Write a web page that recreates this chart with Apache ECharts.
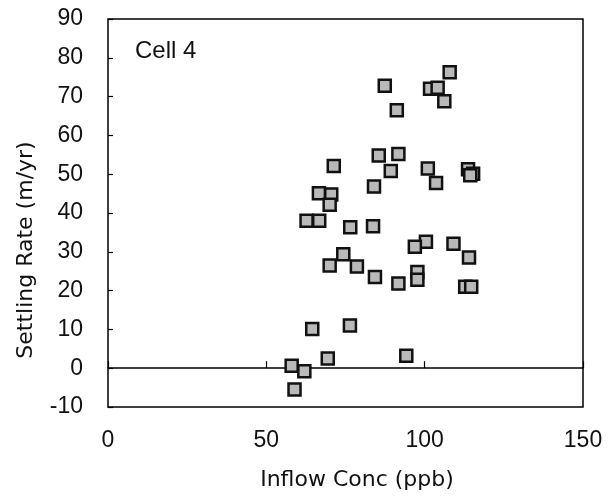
<!DOCTYPE html>
<html><head><meta charset="utf-8">
<script src="https://cdn.jsdelivr.net/npm/echarts@6/dist/echarts.min.js"></script>
<style>html,body{margin:0;padding:0;background:#fff}#c{width:610px;height:498px}</style>
</head><body><div id="c"></div>
<script>
var inflowConc = [107.9,87.4,101.7,104.1,106.2,91.2,85.5,91.7,71.3,89.3,101.0,113.7,115.3,114.4,103.6,84.0,66.6,70.5,70.0,62.7,66.7,76.5,83.7,100.4,96.9,109.1,74.3,70.0,78.6,114.0,84.3,97.7,97.7,91.7,112.8,114.7,64.5,76.4,69.4,94.2,58.0,62.0,58.9];
var settlingRate = [76.3,72.8,72.0,72.3,68.8,66.5,54.8,55.2,52.1,50.8,51.5,51.3,50.1,49.7,47.7,46.8,45.1,44.8,42.1,38.0,38.0,36.3,36.6,32.6,31.3,32.1,29.4,26.5,26.2,28.5,23.5,24.8,22.8,21.8,21.0,21.0,10.1,11.0,2.5,3.2,0.6,-0.8,-5.5];
var xTicks = [0,50,100,150];
var yTicks = [-10,0,10,20,30,40,50,60,70,80,90];
var pts = inflowConc.map(function(x,i){return [x,settlingRate[i]];});
var font = '"Liberation Sans", Arial, sans-serif';
var nameFont = '"DejaVu Sans", sans-serif';
var chart = echarts.init(document.getElementById('c'));
chart.setOption({
  animation:false,
  grid:{left:108,right:27,top:19,bottom:91,show:true,borderColor:'#000',borderWidth:1.5,backgroundColor:'transparent'},
  graphic:[
    {type:'text',x:135,y:51,style:{text:'Cell 4',font:'24px '+font,fill:'#111',textVerticalAlign:'middle'}},
    {type:'text',x:357,y:480,style:{text:'Inflow Conc (ppb)',font:'22px '+nameFont,fill:'#111',textAlign:'center',textVerticalAlign:'middle'}},
    {type:'text',x:26,y:250,rotation:Math.PI/2,style:{text:'Settling Rate (m/yr)',font:'22px '+nameFont,fill:'#111',textAlign:'center',textVerticalAlign:'middle'}}
  ],
  xAxis:[{
    type:'value',min:xTicks[0],max:xTicks[xTicks.length-1],interval:50,position:'bottom',
    axisLine:{show:false,onZero:false},axisTick:{show:false},splitLine:{show:false},
    axisLabel:{margin:22,fontSize:23,color:'#111',fontFamily:font}
  },{
    type:'value',min:xTicks[0],max:xTicks[xTicks.length-1],interval:50,position:'bottom',
    axisLine:{show:true,onZero:true,lineStyle:{color:'#000',width:1.5}},
    axisTick:{show:true,inside:true,length:7,lineStyle:{color:'#000',width:1.2}},
    axisLabel:{show:false},splitLine:{show:false}
  }],
  yAxis:{
    type:'value',min:yTicks[0],max:yTicks[yTicks.length-1],interval:10,
    axisLine:{show:false},axisTick:{show:true,inside:true,length:5,lineStyle:{color:'#000',width:1.2}},splitLine:{show:false},
    axisLabel:{margin:25,fontSize:23,color:'#111',fontFamily:font}
  },
  series:[{
    type:'scatter',xAxisIndex:0,data:pts,symbol:'rect',symbolSize:12,
    itemStyle:{color:'#b9b9b9',borderColor:'#111',borderWidth:2.5,opacity:1}
  }]
});
</script></body></html>
